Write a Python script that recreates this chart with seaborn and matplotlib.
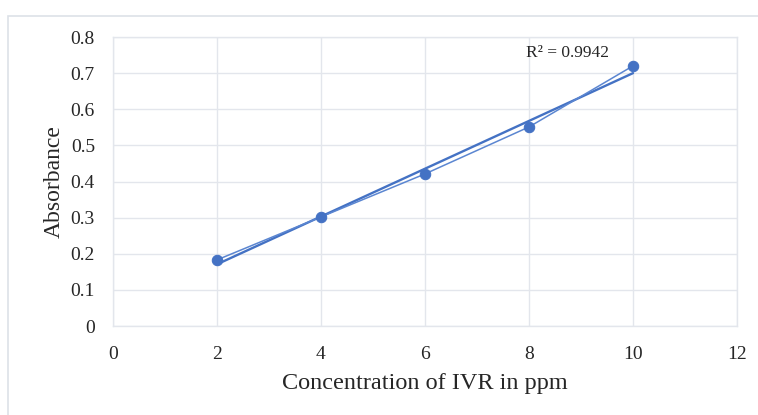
import matplotlib
matplotlib.use("Agg")
import matplotlib.pyplot as plt
import seaborn as sns
import numpy as np
import pandas as pd
from matplotlib.patches import Rectangle

concentration = [2, 4, 6, 8, 10]
absorbance = [0.183, 0.302, 0.421, 0.551, 0.720]
x_ticks = [0, 2, 4, 6, 8, 10, 12]
y_ticks = [0, 0.1, 0.2, 0.3, 0.4, 0.5, 0.6, 0.7, 0.8]
y_tick_labels = ["0", "0.1", "0.2", "0.3", "0.4", "0.5", "0.6", "0.7", "0.8"]
r2_label = "R² = 0.9942"
x_label = "Concentration of IVR in ppm"
y_label = "Absorbance"

df = pd.DataFrame({"x": concentration, "y": absorbance})

sns.set_theme(style="white")
plt.rcParams["font.family"] = ["Liberation Serif", "DejaVu Serif"]

fig = plt.figure(figsize=(7.58, 4.15), dpi=100)
ax = fig.add_axes([113/758, 1-326/415, (737-113)/758, (326-37)/415])

blue = "#4472C4"
grid_c = "#E3E6EC"
txt_c = "#262626"

# outer chart border
fig.patches.append(Rectangle((8/758, -0.1), 1.2, 1-16/415+0.1, transform=fig.transFigure,
                             fill=False, edgecolor="#DDE1E8", linewidth=1.2, zorder=0))

sns.regplot(data=df, x="x", y="y", ax=ax, scatter=False, ci=None, truncate=True,
            line_kws=dict(color=blue, lw=1.7, zorder=3))
sns.lineplot(data=df, x="x", y="y", ax=ax, color="#5B86D1", lw=1.1, marker="o",
             markersize=7.5, markeredgecolor=blue, markerfacecolor=blue, zorder=4)

ax.set_xlim(0, 12)
ax.set_ylim(0, 0.8)
ax.set_xticks(x_ticks)
ax.set_yticks(y_ticks)
ax.set_yticklabels(y_tick_labels)
ax.grid(True, color=grid_c, lw=1.0)
ax.set_axisbelow(True)
for s in ax.spines.values():
    s.set_color(grid_c)
    s.set_linewidth(1.0)
ax.tick_params(axis="both", labelsize=14, colors=txt_c, length=0)
ax.tick_params(axis="x", pad=14.5)
ax.tick_params(axis="y", pad=13)
ax.set_xlabel(x_label, fontsize=17.5, color=txt_c, va="center")
ax.set_ylabel(y_label, fontsize=17, color=txt_c, va="center")
ax.xaxis.set_label_coords(0.5, (326-383)/289)
ax.yaxis.set_label_coords((54-113)/624, 0.5)

ax.text(8.75, 0.757, r2_label, fontsize=12.5, color=txt_c, va="center", ha="center")

fig.savefig("out.png", dpi=100)
